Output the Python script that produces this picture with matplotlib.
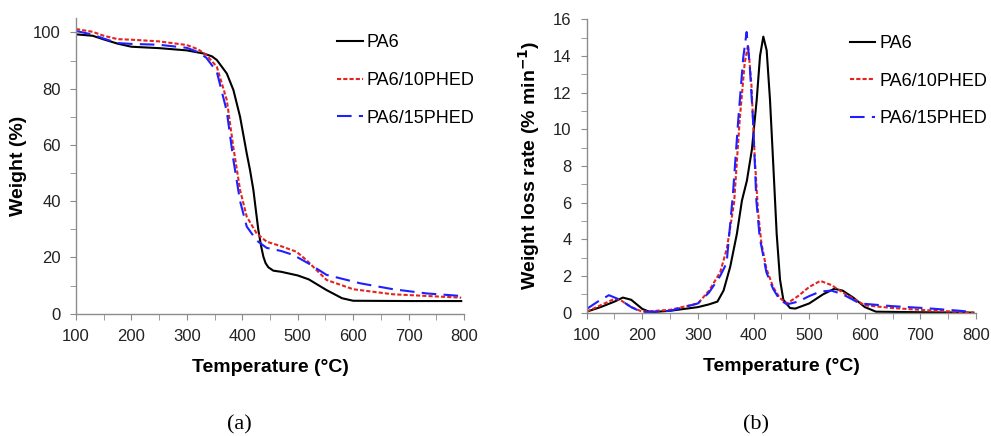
import numpy as np
import matplotlib.pyplot as plt
from matplotlib.ticker import MultipleLocator

plt.rcParams['font.family'] = ['Liberation Sans', 'DejaVu Sans']

# (a) TGA curves: temperature (C) vs weight (%)
t_pa6 = [100, 130, 150, 175, 200, 250, 300, 330, 345, 354, 372, 384, 396, 408, 414, 420, 425, 429, 434, 438, 442, 447, 456, 470, 500, 520, 552, 580, 600, 700, 795]
w_pa6 = [99.3, 98.8, 97.5, 96.0, 94.9, 94.4, 93.6, 92.5, 91.5, 90.2, 85.4, 79.5, 70.0, 57.0, 51.0, 44.0, 36.0, 29.7, 24.0, 20.3, 18.0, 16.5, 15.3, 14.9, 13.6, 12.2, 8.4, 5.5, 4.6, 4.5, 4.5]

t_10 = [100, 130, 150, 175, 200, 250, 300, 320, 335, 354, 372, 384, 396, 408, 426, 444, 470, 498, 516, 552, 600, 672, 795]
w_10 = [101.2, 100.2, 98.8, 97.6, 97.4, 96.8, 95.5, 94.0, 92.0, 87.8, 76.0, 59.0, 44.0, 34.5, 28.5, 25.6, 24.0, 22.0, 19.0, 12.0, 8.7, 6.9, 5.7]

t_15 = [100, 130, 150, 175, 200, 250, 300, 320, 335, 354, 372, 384, 396, 408, 426, 444, 470, 492, 520, 552, 613, 672, 733, 795]
w_15 = [100.5, 99.2, 97.8, 96.2, 95.9, 95.6, 94.5, 93.0, 91.0, 86.0, 72.0, 54.6, 40.0, 31.0, 26.0, 23.4, 22.3, 20.9, 17.8, 13.8, 10.8, 8.7, 7.2, 6.3]

# (b) DTG curves: temperature (C) vs weight loss rate (% min-1)
d_t_pa6 = [100, 125, 150, 165, 180, 200, 215, 250, 300, 320, 335, 346, 358, 370, 379, 388, 397, 405.6, 411.6, 417.5, 423.5, 429.5, 435.5, 441.5, 447.5, 453.5, 465.5, 475, 500, 525, 545, 560, 580, 600, 620, 700, 795]
d_v_pa6 = [0.05, 0.3, 0.6, 0.82, 0.7, 0.2, 0.02, 0.1, 0.3, 0.45, 0.6, 1.2, 2.5, 4.3, 6.1, 7.2, 8.9, 11.6, 14.0, 15.05, 14.3, 11.6, 8.0, 4.3, 1.8, 0.7, 0.25, 0.22, 0.5, 1.0, 1.3, 1.2, 0.8, 0.3, 0.05, 0.02, 0.0]

d_t_10 = [100, 125, 150, 160, 180, 200, 250, 300, 320, 340, 352, 365, 375, 384, 390, 396, 402, 408, 414, 423, 435, 447, 460, 480, 500, 520, 540, 560, 600, 650, 700, 795]
d_v_10 = [0.05, 0.4, 0.75, 0.7, 0.3, 0.05, 0.15, 0.5, 1.2, 2.2, 3.5, 6.0, 10.5, 13.6, 14.6, 12.5, 8.5, 5.5, 3.8, 2.4, 1.4, 0.8, 0.5, 0.9, 1.4, 1.73, 1.5, 1.1, 0.4, 0.25, 0.15, 0.0]

d_t_15 = [100, 120, 140, 160, 180, 200, 250, 300, 320, 340, 351.5, 363, 372.4, 381.4, 387.5, 393, 399, 405, 411, 423, 435, 447, 460, 480, 500, 520, 540, 560, 591, 650, 711, 771, 795]
d_v_15 = [0.2, 0.6, 0.95, 0.7, 0.3, 0.02, 0.1, 0.5, 1.1, 2.0, 2.7, 6.5, 10.5, 13.9, 15.3, 13.5, 10.5, 6.1, 4.1, 2.2, 1.3, 0.7, 0.45, 0.6, 0.9, 1.15, 1.2, 1.0, 0.5, 0.35, 0.24, 0.1, 0.02]

labels = ['PA6', 'PA6/10PHED', 'PA6/15PHED']
colors = ['black', '#e3241f', '#1f1fff']
styles = [dict(linestyle='-'), dict(linestyle=(0, (2, 1))), dict(linestyle=(0, (7, 3.5)))]

fig = plt.figure(figsize=(9.91, 4.36), dpi=100)
ax1 = fig.add_axes([0.0767, 0.2805, 0.3915, 0.6775])
ax2 = fig.add_axes([0.592, 0.283, 0.393, 0.673])


def style_axes(ax):
    for s in ['top', 'right']:
        ax.spines[s].set_visible(False)
    for s in ['left', 'bottom']:
        ax.spines[s].set_color('#8c8c8c')
        ax.spines[s].set_linewidth(1.0)
    ax.tick_params(which='both', direction='out', color='#8c8c8c', length=4,
                   labelsize=12, labelcolor='#222222', pad=7)
    ax.set_xlim(100, 800)
    ax.xaxis.set_major_locator(MultipleLocator(100))
    ax.xaxis.set_minor_locator(MultipleLocator(50))
    ax.set_xlabel('Temperature (°C)', fontsize=14, fontweight='bold', labelpad=11)


leg_kw = dict(loc='upper left', frameon=False, fontsize=13, handlelength=1.4,
              handletextpad=0.2, labelspacing=1.15, borderaxespad=0)

series_a = [(t_pa6, w_pa6), (t_10, w_10), (t_15, w_15)]
for (t, w), lab, c, st in zip(series_a, labels, colors, styles):
    ax1.plot(t, w, color=c, lw=1.5, label=lab, **st)
style_axes(ax1)
ax1.set_ylim(0, 105)
ax1.yaxis.set_major_locator(MultipleLocator(20))
ax1.yaxis.set_minor_locator(MultipleLocator(10))
ax1.set_yticks([0, 20, 40, 60, 80, 100])
ax1.set_ylabel('Weight (%)', fontsize=14, fontweight='bold', labelpad=4.5)
ax1.legend(bbox_to_anchor=(0.655, 0.971), **leg_kw)

series_b = [(d_t_pa6, d_v_pa6), (d_t_10, d_v_10), (d_t_15, d_v_15)]
for (t, v), lab, c, st in zip(series_b, labels, colors, styles):
    ax2.plot(t, v, color=c, lw=1.5, label=lab, **st)
style_axes(ax2)
ax2.set_ylim(0, 16)
ax2.yaxis.set_major_locator(MultipleLocator(2))
ax2.yaxis.set_minor_locator(MultipleLocator(1))
ax2.set_ylabel('Weight loss rate (% min$^{\\mathbf{-1}}$)', fontsize=14, fontweight='bold', labelpad=8)
ax2.legend(bbox_to_anchor=(0.658, 0.971), **leg_kw)

fig.text(0.242, 0.0138, '(a)', fontsize=16, family='Liberation Serif', ha='center', va='baseline')
fig.text(0.763, 0.0138, '(b)', fontsize=16, family='Liberation Serif', ha='center', va='baseline')

fig.savefig('out.png', dpi=100)
